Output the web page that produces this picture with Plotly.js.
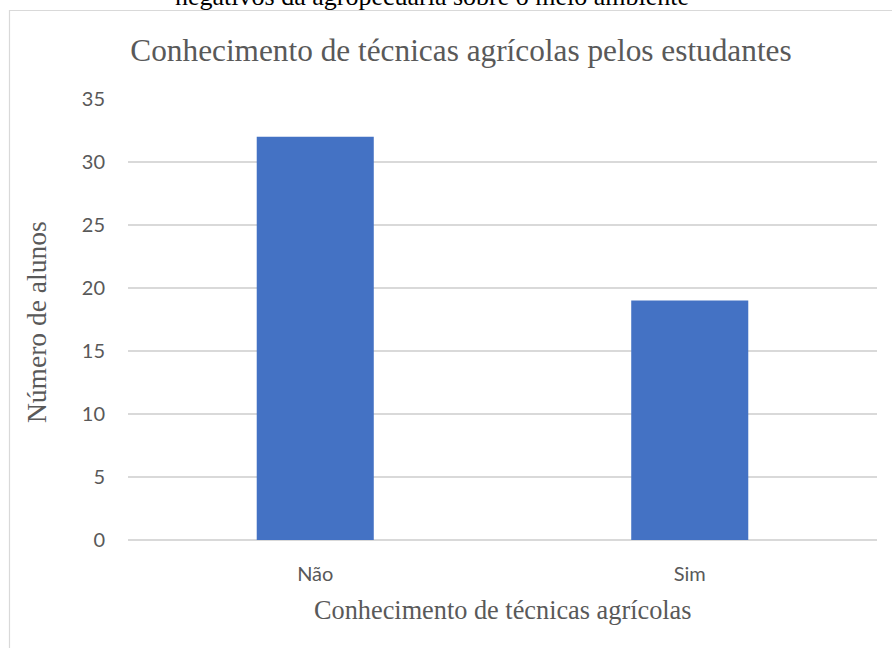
<!DOCTYPE html>
<html>
<head>
<meta charset="utf-8">
<script src="https://cdn.plot.ly/plotly-3.0.1.min.js"></script>
<style>
  html, body { margin: 0; padding: 0; background: #ffffff; }
  #chart { width: 892px; height: 648px; }
</style>
</head>
<body>
<div id="chart"></div>
<script>
// Respostas dos estudantes
const categorias = ['Não', 'Sim'];
const alunos = [32, 19];
const yTicks = [0, 5, 10, 15, 20, 25, 30, 35];

const tituloGrafico = 'Conhecimento de técnicas agrícolas pelos estudantes';
const tituloX = 'Conhecimento de técnicas agrícolas';
const tituloY = 'Número de alunos';
const legendaAnterior = 'negativos da agropecuária sobre o meio ambiente';

// page geometry (pixels)
const W = 892, H = 648;
const M = { l: 128, r: 15, t: 99, b: 108 };
const pw = W - M.l - M.r, ph = H - M.t - M.b;
const px = x => (x - M.l) / pw;          // pixel -> paper x
const py = y => (H - M.b - y) / ph;      // pixel -> paper y

const serif = '"Liberation Serif", "Times New Roman", serif';
const sans = 'Lato, "Open Sans", sans-serif';
const cinza = '#595959';

const trace = {
  type: 'bar',
  x: categorias,
  y: alunos,
  marker: { color: '#4472c4', line: { width: 0 } },
  hoverinfo: 'x+y'
};

const layout = {
  width: W, height: H,
  margin: M,
  paper_bgcolor: '#ffffff',
  plot_bgcolor: '#ffffff',
  bargap: 0.6875,
  showlegend: false,
  title: {
    text: tituloGrafico,
    font: { family: serif, size: 31.3, color: cinza },
    x: 461 / W, xanchor: 'center',
    y: 1 - 50 / H, yanchor: 'middle',
    xref: 'container', yref: 'container'
  },
  xaxis: {
    type: 'category',
    showgrid: false,
    showline: false,
    zeroline: false,
    ticks: '',
    ticklabelstandoff: 20,
    tickfont: { family: sans, size: 20, color: cinza }
  },
  yaxis: {
    range: [0, 35],
    tickvals: yTicks,
    ticktext: yTicks.map(String),
    showgrid: true,
    gridcolor: '#d9d9d9',
    gridwidth: 1.5,
    zeroline: true,
    zerolinecolor: '#d9d9d9',
    zerolinewidth: 1.5,
    showline: false,
    ticks: '',
    ticklabelstandoff: 22,
    tickfont: { family: sans, size: 20, color: cinza }
  },
  shapes: [{
    type: 'rect', xref: 'paper', yref: 'paper',
    x0: px(9.5), x1: px(905), y0: py(670), y1: py(10.5),
    line: { color: '#d9d9d9', width: 1.2 },
    fillcolor: 'rgba(0,0,0,0)',
    layer: 'below'
  }],
  annotations: [
    {
      text: tituloX, xref: 'paper', yref: 'paper',
      x: 0.5, y: py(610), xanchor: 'center', yanchor: 'middle',
      showarrow: false,
      font: { family: serif, size: 26.3, color: cinza }
    },
    {
      text: tituloY, xref: 'paper', yref: 'paper',
      x: px(36), y: py(322), xanchor: 'center', yanchor: 'middle',
      textangle: -90, showarrow: false,
      font: { family: serif, size: 27.5, color: cinza }
    },
    {
      text: legendaAnterior, xref: 'paper', yref: 'paper',
      x: px(432), y: py(-4), xanchor: 'center', yanchor: 'middle',
      showarrow: false,
      font: { family: serif, size: 26, color: '#000000' }
    }
  ]
};

Plotly.newPlot('chart', [trace], layout, { displayModeBar: false, staticPlot: true });
</script>
</body>
</html>
